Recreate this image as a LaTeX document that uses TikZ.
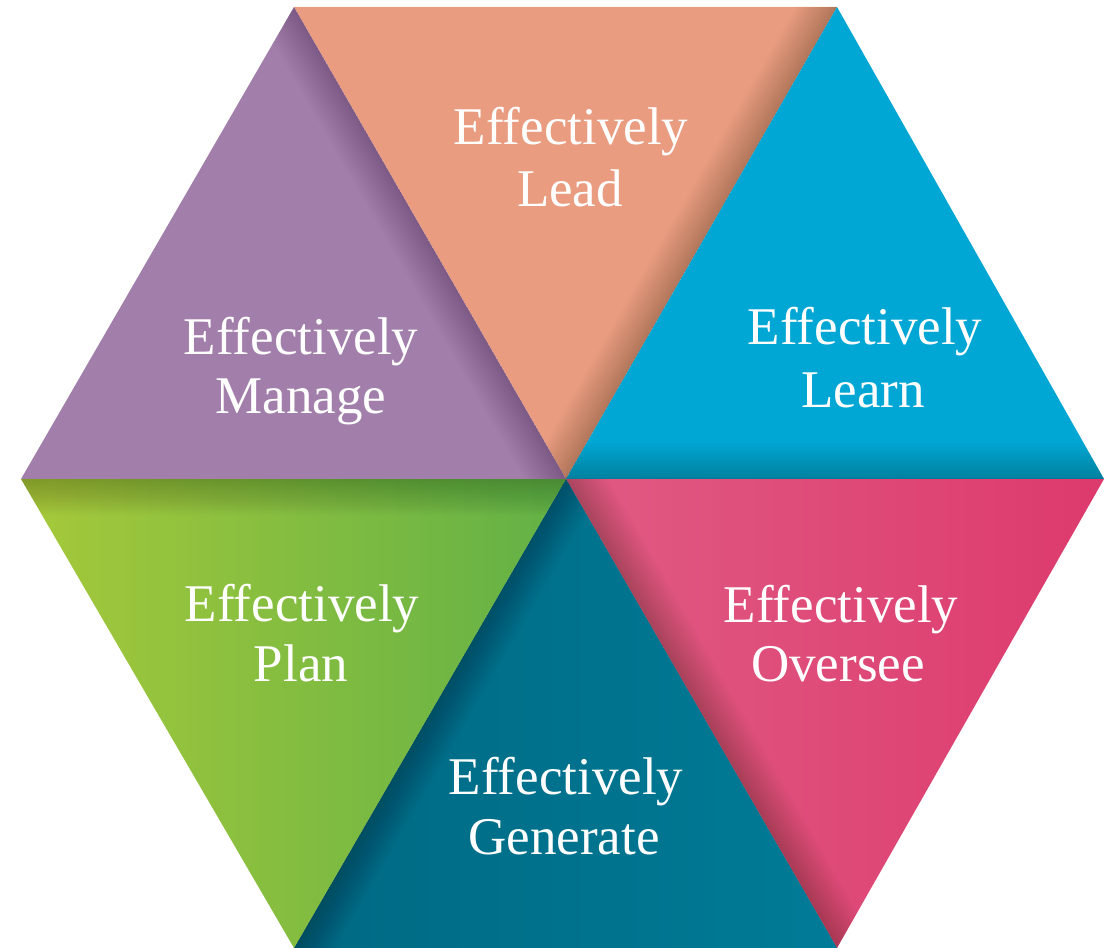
\documentclass[tikz,border=0pt]{standalone}
\usepackage{fontspec}
\setmainfont{Liberation Serif}
\usetikzlibrary{calc}

\definecolor{leadface}{HTML}{E99C80}
\definecolor{learnface}{HTML}{00A6D4}
\definecolor{manageface}{HTML}{A27FAB}
\definecolor{oversL}{HTML}{E05B83}
\definecolor{oversR}{HTML}{DD3A6D}
\definecolor{genL}{HTML}{006983}
\definecolor{genR}{HTML}{007B97}
\definecolor{planL}{HTML}{A6C93A}
\definecolor{planR}{HTML}{62B146}

% soft shadow cast onto a face along its edge from the centre (C) to #1;
% #2 is the remaining corner of that face
\newcommand\faceshadow[2]{%
  \begin{scope}
    \clip (C) -- (#1) -- (#2) -- cycle;
    \foreach \d in {2,4,...,36}
      \fill[black, fill opacity=0.01]
        (C) -- (#1) -- ($(#1)!\d pt!-90:(C)$) -- ($(C)!\d pt!90:(#1)$) -- cycle;
  \end{scope}}

\begin{document}
\begin{tikzpicture}[x=1pt, y=1pt,
  facetext/.style={text=white, font=\fontsize{53}{60}\selectfont,
                   anchor=base, inner sep=0pt}]
\useasboundingbox (0,0) rectangle (1104,948);

% hexagon corners and centre
\coordinate (C)  at (566,469);
\coordinate (TL) at (294,941);
\coordinate (TR) at (837,941);
\coordinate (R)  at (1104,469);
\coordinate (BR) at (837,0);
\coordinate (BL) at (294,0);
\coordinate (L)  at (21,469);

% the six faces
\fill[leadface]   (TL) -- (TR) -- (C) -- cycle;
\fill[learnface]  (TR) -- (R)  -- (C) -- cycle;
\shade[left color=oversL, right color=oversR] (R) -- (BR) -- (C) -- cycle;
\shade[left color=genL,   right color=genR]   (BR) -- (BL) -- (C) -- cycle;
\shade[left color=planL,  right color=planR]  (BL) -- (L)  -- (C) -- cycle;
\fill[manageface] (L) -- (TL) -- (C) -- cycle;

% pinwheel shadows
\faceshadow{TL}{L}
\faceshadow{TR}{TL}
\faceshadow{R}{TR}
\faceshadow{BR}{R}
\faceshadow{BL}{BR}
\faceshadow{L}{BL}

% labels
\node[facetext] (lead1) at (571,803) {Effectively};
\node[facetext] (lead2) at (570,741) {Lead};
\node[facetext] (manage1) at (301,593) {Effectively};
\node[facetext] (manage2) at (301,534) {Manage};
\node[facetext] (learn1) at (865,603) {Effectively};
\node[facetext] (learn2) at (863,540) {Learn};
\node[facetext] (plan1) at (302,326) {Effectively};
\node[facetext] (plan2) at (301,266) {Plan};
\node[facetext] (overs1) at (841,325) {Effectively};
\node[facetext] (overs2) at (838,266) {Oversee};
\node[facetext] (gen1) at (566,153) {Effectively};
\node[facetext] (gen2) at (564,93) {Generate};
\end{tikzpicture}
\end{document}
